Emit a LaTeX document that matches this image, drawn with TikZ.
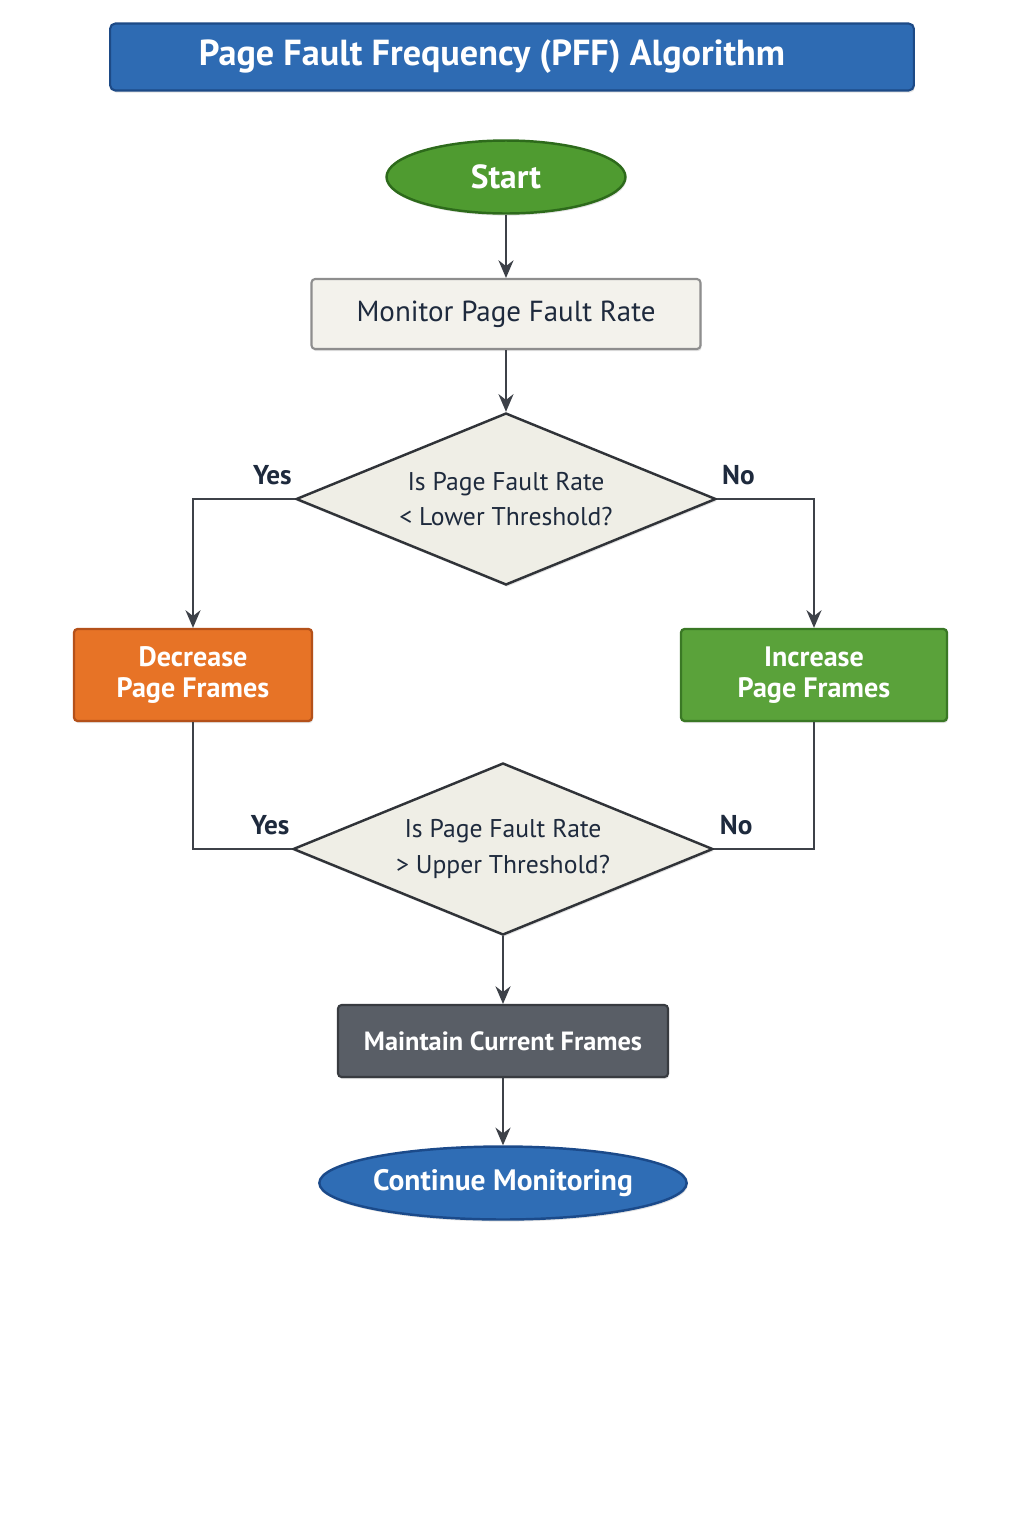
\documentclass[tikz,border=0pt]{standalone}
\usepackage{fontspec}
\setmainfont{PT Sans}
\usepackage{tikz}
\usetikzlibrary{arrows.meta,positioning,calc,shapes.geometric,shadows}
\definecolor{titleblue}{HTML}{2E6BB3}
\definecolor{titleedge}{HTML}{1D4A86}
\definecolor{startgreen}{HTML}{4F9B30}
\definecolor{startedge}{HTML}{2D6A1B}
\definecolor{monfill}{HTML}{F3F2EC}
\definecolor{monedge}{HTML}{8E8E8E}
\definecolor{decfill}{HTML}{EFEEE6}
\definecolor{decedge}{HTML}{303338}
\definecolor{decrorange}{HTML}{E77326}
\definecolor{decredge}{HTML}{B4511A}
\definecolor{incrgreen}{HTML}{5AA23A}
\definecolor{incredge}{HTML}{3A7825}
\definecolor{keepgrey}{HTML}{595E66}
\definecolor{keepedge}{HTML}{383B40}
\definecolor{contblue}{HTML}{2F6DB5}
\definecolor{contedge}{HTML}{1B4A8A}
\definecolor{textnavy}{HTML}{1E2A3D}
\definecolor{arrowgrey}{HTML}{3D4148}
\tikzset{
  basenode/.style={draw, align=center, drop shadow={opacity=0.22, shadow xshift=0.6pt, shadow yshift=-1.2pt}},
  titlebar/.style={basenode, rounded corners=3pt, line width=1.2pt, fill=titleblue, draw=titleedge, text=white, font=\bfseries\fontsize{20.6}{24}\selectfont, minimum width=16.08cm, minimum height=1.34cm},
  terminal/.style={basenode, ellipse, inner sep=0pt, line width=1.4pt, text=white, font=\bfseries\fontsize{19}{22}\selectfont, minimum height=1.46cm},
  procbox/.style={basenode, rounded corners=2pt, line width=1.2pt, fill=monfill, draw=monedge, text=textnavy, font=\fontsize{16.5}{19}\selectfont, minimum width=7.78cm, minimum height=1.4cm},
  decision/.style={basenode, diamond, aspect=2.44, line width=1.4pt, fill=decfill, draw=decedge, text=textnavy, font=\fontsize{14.6}{20.4}\selectfont, minimum width=8.4cm, minimum height=3.44cm, inner sep=0pt},
  actbox/.style={basenode, rounded corners=2pt, line width=1.3pt, text=white, font=\bfseries\fontsize{16}{18}\selectfont, minimum height=1.84cm},
  line/.style={-{Stealth[length=10pt, width=8.5pt]}, line width=1.6pt, draw=arrowgrey},
  link/.style={line width=1.6pt, draw=arrowgrey},
  lbl/.style={font=\bfseries\fontsize{15.5}{18}\selectfont, text=textnavy, above=4pt}
}
\begin{document}
\begin{tikzpicture}[x=0.02cm, y=-0.02cm]
  \useasboundingbox (0,0) rectangle (1024,1536);
  \node[titlebar] (title) at (512,57) {Page Fault Frequency (PFF) Algorithm\hspace*{0.8cm}};
  \node[terminal, fill=startgreen, draw=startedge, minimum width=4.78cm] (start) at (506,177) {Start};
  \node[procbox] (monitor) at (506,314) {Monitor Page Fault Rate};
  \node[decision] (lower) at (506,499) {Is Page Fault Rate\\ \textless{} Lower Threshold?};
  \node[actbox, fill=decrorange, draw=decredge, minimum width=4.76cm] (decr) at (193,675) {Decrease\\ Page Frames};
  \node[actbox, fill=incrgreen, draw=incredge, minimum width=5.32cm] (incr) at (814,675) {Increase\\ Page Frames};
  \node[decision] (upper) at (503,849) {Is Page Fault Rate\\ \textgreater{} Upper Threshold?};
  \node[procbox, fill=keepgrey, draw=keepedge, text=white, font=\bfseries\fontsize{15}{18}\selectfont, minimum width=6.6cm, minimum height=1.44cm] (maintain) at (503,1041) {Maintain Current Frames};
  \node[terminal, fill=contblue, draw=contedge, minimum width=7.28cm, font=\bfseries\fontsize{16.8}{20}\selectfont] (cont) at (503,1183) {Continue Monitoring};
  \draw[line] (start) -- (monitor);
  \draw[line] (monitor) -- (lower);
  \draw[line] (lower.west) -| node[lbl, pos=0.11] {Yes} (decr.north);
  \draw[line] (lower.east) -| node[lbl, pos=0.11] {No} (incr.north);
  \draw[link] (decr.south) |- node[lbl, pos=0.89] {Yes} (upper.west);
  \draw[link] (incr.south) |- node[lbl, pos=0.89] {No} (upper.east);
  \draw[line] (upper) -- (maintain);
  \draw[line] (maintain) -- (cont);
\end{tikzpicture}
\end{document}
